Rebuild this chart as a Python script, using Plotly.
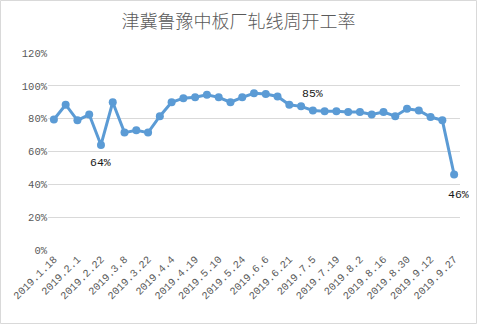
import plotly.graph_objects as go

dates = ["2019.1.18", "2019.1.25", "2019.2.1", "2019.2.15", "2019.2.22", "2019.3.1",
         "2019.3.8", "2019.3.15", "2019.3.22", "2019.3.29", "2019.4.4", "2019.4.12",
         "2019.4.19", "2019.4.26", "2019.5.10", "2019.5.17", "2019.5.24", "2019.5.31",
         "2019.6.6", "2019.6.14", "2019.6.21", "2019.6.28", "2019.7.5", "2019.7.12",
         "2019.7.19", "2019.7.26", "2019.8.2", "2019.8.9", "2019.8.16", "2019.8.23",
         "2019.8.30", "2019.9.6", "2019.9.12", "2019.9.20", "2019.9.27"]
rates = [79.5, 88.5, 79, 82.5, 64, 90, 71.5, 73, 71.5, 81.5, 90, 92.5, 93, 94.5, 93,
         90, 93, 95.5, 95, 93.5, 88.5, 87.5, 85, 84.5, 84.5, 84, 84, 82.5, 84, 81.5,
         86, 85, 81, 79, 46]
# label placement: (point date, vertical shift px, horizontal shift px)
labeled = [("2019.2.22", -18, 0), ("2019.7.5", 17, 0), ("2019.9.27", -20, 4)]

W, H = 477, 324
ml, mr, mt, mb = 48, 17, 53, 74
pw, ph = W - ml - mr, H - mt - mb

fig = go.Figure()
fig.add_trace(go.Scatter(
    x=list(range(len(dates))), y=rates, mode="lines+markers",
    line=dict(color="#5b9bd5", width=3),
    marker=dict(color="#5b9bd5", size=8),
    cliponaxis=False, hoverinfo="skip", showlegend=False,
))

annotations = []
for d, dy, dx in labeled:
    i = dates.index(d)
    annotations.append(dict(x=i, y=rates[i], xref="x", yref="y", text=f"{round(rates[i])}%",
                            showarrow=False, yshift=dy, xshift=dx,
                            font=dict(family="Liberation Mono", size=11.5, color="#1a1a1a")))

fig.update_layout(
    width=W, height=H,
    margin=dict(l=ml, r=mr, t=mt, b=mb),
    paper_bgcolor="white", plot_bgcolor="white",
    title=dict(text="津冀鲁豫中板厂轧线周开工率", x=0.5, xanchor="center",
               y=1 - 22 / H, yanchor="middle",
               font=dict(family="Noto Sans CJK SC", size=18, color="#595959", weight=300)),
    annotations=annotations,
    xaxis=dict(range=[-0.5, len(dates) - 0.5],
               tickmode="array",
               tickvals=list(range(0, len(dates), 2)),
               ticktext=dates[::2],
               tickangle=-45, showgrid=False, zeroline=False, showline=False,
               ticks="", tickfont=dict(family="Liberation Mono", size=10.5, color="#595959")),
    yaxis=dict(range=[0, 120], dtick=20, ticksuffix="%", showgrid=True,
               gridcolor="#d9d9d9", gridwidth=1, zeroline=False, showline=False,
               ticks="", tickfont=dict(family="Liberation Mono", size=10.5, color="#595959")),
    shapes=[dict(type="rect", xref="paper", yref="paper",
                 x0=(0.5 - ml) / pw, x1=(W - 0.5 - ml) / pw,
                 y0=-(mb - 0.5) / ph, y1=1 + (mt - 0.5) / ph,
                 line=dict(color="#d9d9d9", width=1), layer="below")],
)

fig.write_html("out.html")
